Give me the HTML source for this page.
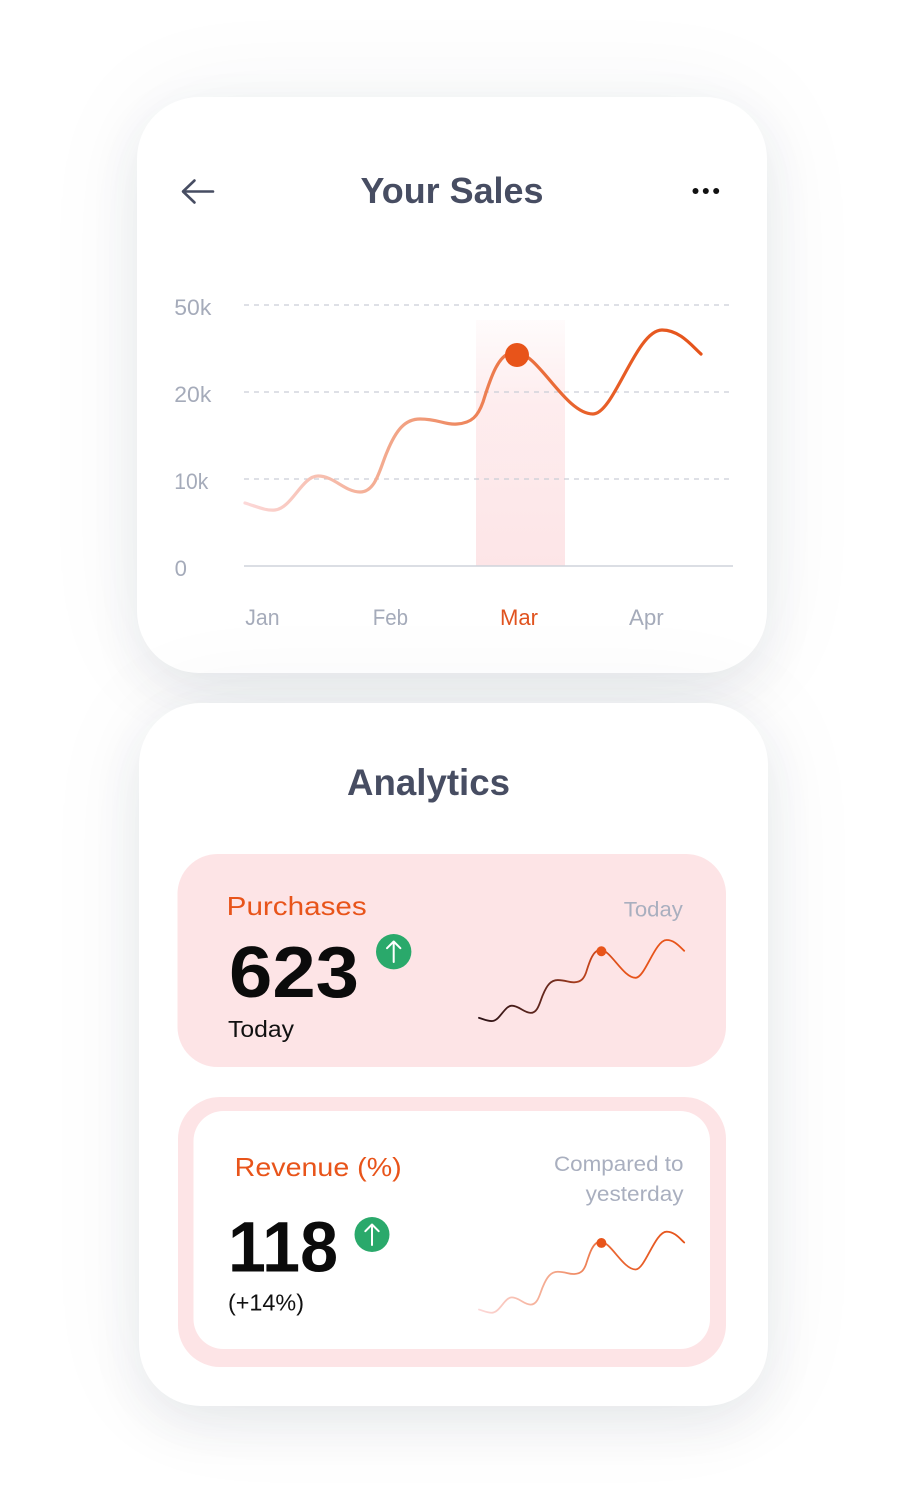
<!DOCTYPE html>
<html>
<head>
<meta charset="utf-8">
<style>
  html,body{margin:0;padding:0;background:#ffffff;}
  body{width:909px;height:1494px;position:relative;overflow:hidden;font-family:"Liberation Sans",sans-serif;}
  .card{position:absolute;background:#fff;border-radius:62px;
    box-shadow:0 18px 50px rgba(40,50,80,0.09),0 0 110px rgba(40,50,80,0.05);}
  svg{position:absolute;left:0;top:0;}
</style>
</head>
<body>
<div class="card" style="left:137px;top:97px;width:630px;height:576px;"></div>
<div class="card" style="left:139px;top:703px;width:629px;height:703px;"></div>

<svg width="909" height="1494" viewBox="0 0 909 1494" xmlns="http://www.w3.org/2000/svg">
  <defs>
    <linearGradient id="band" x1="0" y1="320" x2="0" y2="566" gradientUnits="userSpaceOnUse">
      <stop offset="0" stop-color="#fde6e8" stop-opacity="0.15"/>
      <stop offset="0.35" stop-color="#fde6e8" stop-opacity="0.75"/>
      <stop offset="1" stop-color="#fde5e7" stop-opacity="1"/>
    </linearGradient>
    <linearGradient id="main" x1="245" y1="0" x2="701" y2="0" gradientUnits="userSpaceOnUse">
      <stop offset="0" stop-color="#fcd8d8"/>
      <stop offset="0.3" stop-color="#f3ab90"/>
      <stop offset="0.55" stop-color="#ec7a4c"/>
      <stop offset="0.75" stop-color="#e8612a"/>
      <stop offset="1" stop-color="#e5531a"/>
    </linearGradient>
    <linearGradient id="dark" x1="245" y1="0" x2="701" y2="0" gradientUnits="userSpaceOnUse">
      <stop offset="0" stop-color="#2a1216"/>
      <stop offset="0.35" stop-color="#6b2a1e"/>
      <stop offset="0.55" stop-color="#c8461c"/>
      <stop offset="0.7" stop-color="#e5531a"/>
      <stop offset="1" stop-color="#e8541a"/>
    </linearGradient>
    <linearGradient id="light" x1="245" y1="0" x2="701" y2="0" gradientUnits="userSpaceOnUse">
      <stop offset="0" stop-color="#fcd8d8"/>
      <stop offset="0.35" stop-color="#f4a88c"/>
      <stop offset="0.65" stop-color="#ea6632"/>
      <stop offset="1" stop-color="#e5531a"/>
    </linearGradient>
    <path id="curve" d="M245,503 C258,507 266,511 275,510 C292,508 302,476 318,476 C334,476 345,492 360,492 C376,492 380,468 387,452 C396,430 405,419 420,419 C438,419 445,425 457,424 C472,423 478,416 483,402 C490,380 498,352 515,352 C538,352 565,414 593,414 C614,414 636,330 662,330 C680,330 692,346 701,354"/>
  </defs>

  <!-- Header card 1 -->
  <path d="M213,191.5 H183.5 M194.5,180.5 L183,191.5 L194.5,202.5" fill="none" stroke="#474d62" stroke-width="2.6" stroke-linecap="round" stroke-linejoin="round"/>
  <text x="360.5" y="203" font-family="Liberation Sans, sans-serif" font-weight="700" font-size="36" fill="#474d62" textLength="183" lengthAdjust="spacingAndGlyphs">Your Sales</text>
  <circle cx="695.5" cy="191" r="3" fill="#111"/>
  <circle cx="705.8" cy="191" r="3" fill="#111"/>
  <circle cx="716.2" cy="191" r="3" fill="#111"/>

  <!-- Chart -->
  <rect x="476" y="320" width="89" height="246" fill="url(#band)"/>
  <g stroke="#c9cdd7" stroke-width="1.3" stroke-dasharray="5 5">
    <line x1="244" y1="305" x2="733" y2="305"/>
    <line x1="244" y1="392" x2="733" y2="392"/>
    <line x1="244" y1="479" x2="733" y2="479"/>
  </g>
  <line x1="244" y1="566" x2="733" y2="566" stroke="#cfd3dc" stroke-width="1.6"/>
  <g font-family="Liberation Sans, sans-serif" font-size="22" fill="#a5abba">
    <text x="174.3" y="315" textLength="37" lengthAdjust="spacingAndGlyphs">50k</text>
    <text x="174.3" y="402" textLength="37" lengthAdjust="spacingAndGlyphs">20k</text>
    <text x="174.3" y="489" textLength="34" lengthAdjust="spacingAndGlyphs">10k</text>
    <text x="174.7" y="576" textLength="12.3" lengthAdjust="spacingAndGlyphs">0</text>
    <text x="245.3" y="625" textLength="34.3" lengthAdjust="spacingAndGlyphs">Jan</text>
    <text x="372.7" y="625" textLength="35.3" lengthAdjust="spacingAndGlyphs">Feb</text>
    <text x="500" y="625" textLength="38" lengthAdjust="spacingAndGlyphs" fill="#e0531f">Mar</text>
    <text x="629" y="625" textLength="34.7" lengthAdjust="spacingAndGlyphs">Apr</text>
  </g>
  <use href="#curve" fill="none" stroke="url(#main)" stroke-width="3.2" stroke-linecap="round"/>
  <circle cx="517" cy="355" r="12" fill="#e8541a"/>

  <!-- Analytics -->
  <text x="347" y="795" font-family="Liberation Sans, sans-serif" font-weight="700" font-size="37" fill="#474d62" textLength="163" lengthAdjust="spacingAndGlyphs">Analytics</text>

  <!-- Purchases box -->
  <rect x="177.5" y="854" width="548.5" height="213" rx="40" fill="#fde4e6"/>
  <text x="226.7" y="915" font-family="Liberation Sans, sans-serif" font-size="26" fill="#e8541a" textLength="140" lengthAdjust="spacingAndGlyphs">Purchases</text>
  <text x="623.8" y="916.7" font-family="Liberation Sans, sans-serif" font-size="21" fill="#a9afbf" textLength="59" lengthAdjust="spacingAndGlyphs">Today</text>
  <text x="229" y="997" font-family="Liberation Sans, sans-serif" font-weight="700" font-size="72" fill="#0b0b0b" textLength="130" lengthAdjust="spacingAndGlyphs">623</text>
  <text x="228" y="1037" font-family="Liberation Sans, sans-serif" font-size="23" fill="#111" textLength="66" lengthAdjust="spacingAndGlyphs">Today</text>
  <circle cx="393.7" cy="951.7" r="17.7" fill="#2aa96b"/>
  <path d="M393.7,962 V941.5 M387,948.2 L393.7,941.5 L400.4,948.2" fill="none" stroke="#fff" stroke-width="2" stroke-linecap="round" stroke-linejoin="round"/>
  <g transform="translate(479,940) scale(0.45) translate(-245,-330)">
    <use href="#curve" fill="none" stroke="url(#dark)" stroke-width="4" stroke-linecap="round"/>
    <circle cx="517" cy="355" r="11" fill="#e8541a"/>
  </g>

  <!-- Revenue box -->
  <rect x="178" y="1097" width="548" height="270" rx="42" fill="#fde4e6"/>
  <rect x="193.5" y="1111" width="516.5" height="238" rx="30" fill="#ffffff"/>
  <text x="234.7" y="1176" font-family="Liberation Sans, sans-serif" font-size="26" fill="#e8541a" textLength="167" lengthAdjust="spacingAndGlyphs">Revenue (%)</text>
  <text x="554" y="1171" font-family="Liberation Sans, sans-serif" font-size="21" fill="#a9afbf" textLength="129.5" lengthAdjust="spacingAndGlyphs">Compared to</text>
  <text x="585.6" y="1201" font-family="Liberation Sans, sans-serif" font-size="21" fill="#a9afbf" textLength="98" lengthAdjust="spacingAndGlyphs">yesterday</text>
  <text x="228" y="1271.7" font-family="Liberation Sans, sans-serif" font-weight="700" font-size="71" fill="#0b0b0b" textLength="110" lengthAdjust="spacingAndGlyphs">118</text>
  <text x="228" y="1310.7" font-family="Liberation Sans, sans-serif" font-size="23" fill="#111" textLength="76" lengthAdjust="spacingAndGlyphs">(+14%)</text>
  <circle cx="372" cy="1234.5" r="17.5" fill="#2aa96b"/>
  <path d="M372,1245 V1224.5 M365.3,1231.2 L372,1224.5 L378.7,1231.2" fill="none" stroke="#fff" stroke-width="2" stroke-linecap="round" stroke-linejoin="round"/>
  <g transform="translate(479,1231.7) scale(0.45) translate(-245,-330)">
    <use href="#curve" fill="none" stroke="url(#light)" stroke-width="4" stroke-linecap="round"/>
    <circle cx="517" cy="355" r="11" fill="#e8541a"/>
  </g>
</svg>
</body>
</html>
